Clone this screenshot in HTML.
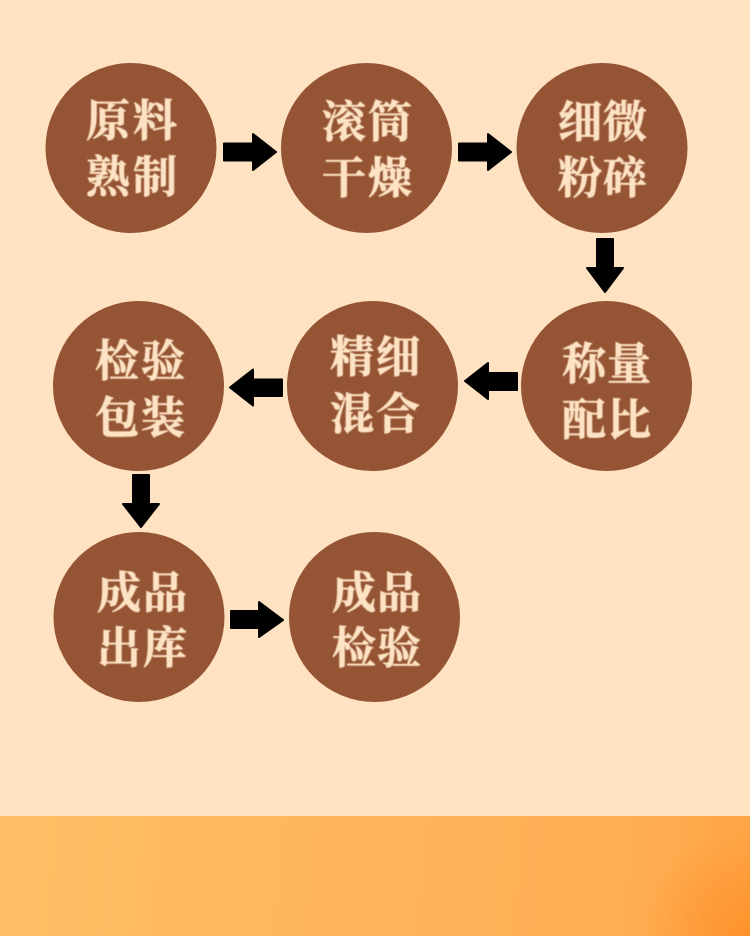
<!DOCTYPE html>
<html><head><meta charset="utf-8"><style>
html,body{margin:0;padding:0;width:750px;height:936px;overflow:hidden;background:#fee2c1}
svg{display:block}
text{font-family:"Liberation Serif","Noto Serif CJK SC",serif;font-weight:700;font-size:44px;fill:#fde3c4;stroke:#fde3c4;stroke-width:.7px;text-anchor:middle}
</style></head><body>
<svg width="750" height="936" viewBox="0 0 750 936" xmlns="http://www.w3.org/2000/svg">
<defs>
<linearGradient id="g" gradientUnits="userSpaceOnUse" x1="0" y1="840" x2="750" y2="920">
<stop offset="0" stop-color="#ffbe66"/><stop offset="0.5" stop-color="#ffb55b"/><stop offset="0.85" stop-color="#ffad52"/><stop offset="1" stop-color="#ffa546"/>
</linearGradient>
<radialGradient id="c" gradientUnits="userSpaceOnUse" cx="750" cy="936" r="110">
<stop offset="0" stop-color="#fe922c" stop-opacity="1"/><stop offset="1" stop-color="#fe922c" stop-opacity="0"/>
</radialGradient>
<filter id="b" x="-5%" y="-5%" width="110%" height="110%"><feGaussianBlur stdDeviation="0.5"/></filter>
</defs>
<rect width="750" height="816" fill="#fee2c1"/>
<rect y="816" width="750" height="120" fill="url(#g)"/>
<rect y="816" width="750" height="120" fill="url(#c)"/>
<g fill="#955535">
<ellipse cx="131" cy="148" rx="85.500" ry="85"/>
<ellipse cx="366.500" cy="148" rx="85.500" ry="85"/>
<ellipse cx="602" cy="148" rx="85.500" ry="85"/>
<ellipse cx="606.500" cy="386" rx="85.500" ry="85"/>
<ellipse cx="372.500" cy="386" rx="85.500" ry="85"/>
<ellipse cx="138.500" cy="386" rx="85.500" ry="85"/>
<ellipse cx="139" cy="617" rx="85.500" ry="85"/>
<ellipse cx="374.500" cy="617" rx="85.500" ry="85"/>
</g>
<g filter="url(#b)">
<text x="108" y="136">原</text><text x="155" y="136">料</text>
<text x="108" y="192">熟</text><text x="155" y="192">制</text>
<text x="344" y="137">滚</text><text x="390" y="137">筒</text>
<text x="344" y="193">干</text><text x="390" y="193">燥</text>
<text x="580" y="137">细</text><text x="625" y="137">微</text>
<text x="580" y="193">粉</text><text x="625" y="193">碎</text>
<text x="584" y="379">称</text><text x="629" y="379">量</text>
<text x="584" y="435">配</text><text x="629" y="435">比</text>
<text x="352" y="372">精</text><text x="398" y="372">细</text>
<text x="352" y="429">混</text><text x="398" y="429">合</text>
<text x="117" y="376">检</text><text x="163" y="376">验</text>
<text x="117" y="433">包</text><text x="163" y="433">装</text>
<text x="119" y="608">成</text><text x="165" y="608">品</text>
<text x="119" y="663">出</text><text x="165" y="663">库</text>
<text x="354" y="608">成</text><text x="399" y="608">品</text>
<text x="354" y="663">检</text><text x="399" y="663">验</text>
</g>
<g fill="#000" stroke="#000" stroke-width="2" stroke-linejoin="round">
<polygon points="224,143.500 253,143.500 253,134 276,152 253,170 253,160.500 224,160.500"/>
<polygon points="459,143.500 488,143.500 488,134 511,152 488,170 488,160.500 459,160.500"/>
<polygon points="597,239 613,239 613,268 623,268 605,292 587,268 597,268"/>
<polygon points="517,373 488,373 488,363 465,381 488,399 488,390 517,390"/>
<polygon points="282,379.500 253,379.500 253,369.500 230,387.500 253,405.500 253,396 282,396"/>
<polygon points="133,475 149,475 149,504 159,504 141,527 123,504 133,504"/>
<polygon points="231,611 259,611 259,602 283,620 259,637 259,628 231,628"/>
</g>
</svg>
</body></html>
